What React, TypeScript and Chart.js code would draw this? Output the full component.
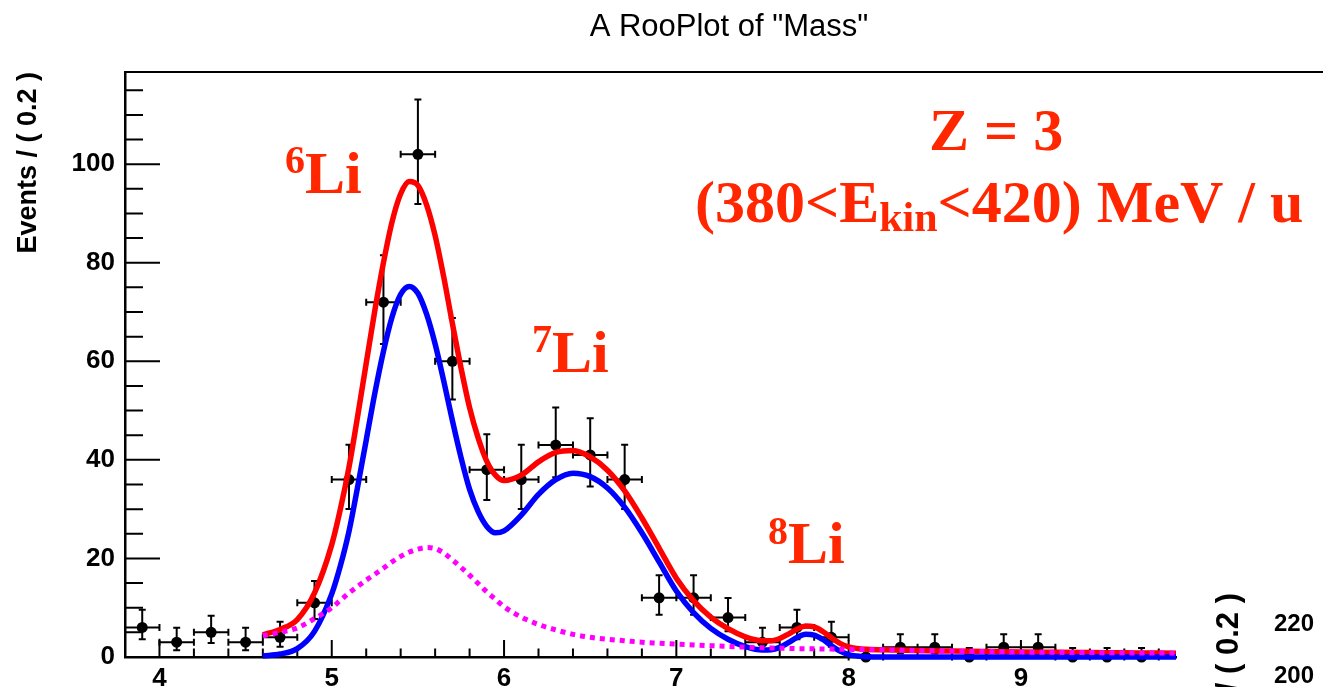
import { useEffect, useRef } from "react";
import { Chart, registerables } from "chart.js";

Chart.register(...registerables);

// ---- data (RooFit mass fit, Z = 3) ----
const binCenters = [3.9, 4.1, 4.3, 4.5, 4.7, 4.9, 5.1, 5.3, 5.5, 5.7, 5.9, 6.1, 6.3, 6.5, 6.7, 6.9, 7.1, 7.3, 7.5, 7.7, 7.9, 8.1, 8.3, 8.5, 8.7, 8.9, 9.1, 9.3, 9.5, 9.7];
const counts = [6, 3, 5, 3, 4, 11, 36, 72, 102, 60, 38, 36, 43, 41, 36, 12, 12, 8, 3, 6, 4, 0, 2, 2, 0, 2, 2, 0, 0, 0];
const errLow = [2.38, 1.63, 2.16, 1.63, 1.91, 3.27, 5.97, 8.47, 10.08, 7.73, 6.14, 5.97, 6.53, 6.38, 5.97, 3.42, 3.42, 2.77, 1.63, 2.38, 1.91, 0, 1.29, 1.29, 0, 1.29, 1.29, 0, 0, 0];
const errHigh = [3.58, 2.92, 3.38, 2.92, 3.16, 4.43, 7.06, 9.53, 11.12, 8.8, 7.22, 7.06, 7.61, 7.46, 7.06, 4.58, 4.58, 3.95, 2.92, 3.58, 3.16, 1.84, 2.64, 2.64, 1.84, 2.64, 2.64, 1.84, 1.84, 1.84];
const binHalfWidth = 0.1;

const curveX = [4.6, 4.7, 4.8, 4.9, 5.0, 5.05, 5.1, 5.15, 5.2, 5.25, 5.3, 5.35, 5.4, 5.45, 5.5, 5.55, 5.6, 5.65, 5.7, 5.75, 5.8, 5.85, 5.9, 5.95, 6.0, 6.1, 6.2, 6.3, 6.4, 6.5, 6.6, 6.7, 6.8, 6.9, 7.0, 7.1, 7.2, 7.3, 7.4, 7.5, 7.55, 7.6, 7.65, 7.7, 7.75, 7.8, 7.85, 7.9, 7.95, 8.0, 8.05, 8.1, 8.2, 8.4, 8.6, 8.8, 9.0, 9.2, 9.4, 9.6, 9.8, 9.9];
const totalFit = [4.5, 5.6, 7.6, 13.0, 22.8, 30.0, 38.5, 48.8, 59.6, 70.3, 80.0, 88.3, 94.0, 96.5, 95.7, 91.8, 85.5, 77.1, 67.7, 58.7, 50.6, 44.4, 39.7, 36.9, 35.8, 36.9, 39.6, 41.5, 41.9, 40.6, 37.9, 33.7, 28.2, 22.1, 16.0, 11.45, 8.1, 5.75, 4.1, 3.3, 3.3, 3.75, 4.65, 5.65, 6.28, 6.1, 5.17, 3.9, 2.77, 2.05, 1.72, 1.55, 1.45, 1.3, 1.2, 1.1, 1.0, 0.95, 0.9, 0.85, 0.8, 0.78];
const signalFit = [0.2, 0.6, 1.7, 5.2, 12.8, 18.5, 25.5, 34.5, 44.0, 53.5, 62.0, 69.0, 73.6, 75.2, 73.8, 69.6, 63.5, 56.0, 48.0, 40.5, 34.0, 29.5, 26.5, 25.2, 25.6, 28.8, 33.0, 36.0, 37.3, 36.6, 34.3, 30.4, 25.2, 19.3, 13.4, 9.0, 5.8, 3.6, 2.1, 1.4, 1.45, 1.95, 2.9, 3.95, 4.6, 4.45, 3.55, 2.3, 1.2, 0.5, 0.2, 0.05, 0, 0, 0, 0, 0, 0, 0, 0, 0, 0];
const backgroundFit = [4.3, 5.0, 5.9, 7.8, 10.0, 11.5, 13.0, 14.3, 15.6, 16.8, 18.0, 19.3, 20.4, 21.3, 21.9, 22.2, 22.0, 21.1, 19.7, 18.2, 16.6, 14.9, 13.2, 11.7, 10.2, 8.1, 6.6, 5.5, 4.6, 4.0, 3.6, 3.3, 3.0, 2.8, 2.6, 2.45, 2.3, 2.15, 2.0, 1.9, 1.85, 1.8, 1.75, 1.7, 1.68, 1.65, 1.62, 1.6, 1.57, 1.55, 1.52, 1.5, 1.45, 1.3, 1.2, 1.1, 1.0, 0.95, 0.9, 0.85, 0.8, 0.78];

// ---- axes / ticks ----
const xMin = 3.8;
const xMax = 9.9;
const yMin = 0;
const yMax = 118.7;
const xMajorTicks = [4, 5, 6, 7, 8, 9];
const xMinorTicks = [4.2, 4.4, 4.6, 4.8, 5.2, 5.4, 5.6, 5.8, 6.2, 6.4, 6.6, 6.8, 7.2, 7.4, 7.6, 7.8, 8.2, 8.4, 8.6, 8.8, 9.2, 9.4, 9.6, 9.8];
const yMajorTicks = [0, 20, 40, 60, 80, 100];
const yMinorTicks = [5, 10, 15, 25, 30, 35, 45, 50, 55, 65, 70, 75, 85, 90, 95, 105, 110, 115];

const titleText = 'A RooPlot of "Mass"';
const yTitleText = "Events / ( 0.2 )";
const neighbourTickLabels = ["220", "200"];

const SANS = '"Liberation Sans", Arial, Helvetica, sans-serif';
const SERIF = '"Liberation Serif", "Times New Roman", serif';
const ANNOT = "#ff2600";

type Run = { text: string; size: number; dy: number };

function drawRuns(ctx: CanvasRenderingContext2D, runs: Run[], x: number, y: number) {
  let cx = x;
  for (const r of runs) {
    ctx.font = `bold ${r.size}px ${SERIF}`;
    ctx.fillText(r.text, cx, y + r.dy);
    cx += ctx.measureText(r.text).width;
  }
}

const rootPlugin = {
  id: "rootStyle",
  beforeDatasetsDraw(chart: any) {
    const { ctx, chartArea: a, scales } = chart;
    const x = scales.x;
    const y = scales.y;
    ctx.save();
    ctx.strokeStyle = "#000";
    ctx.lineWidth = 2;
    ctx.lineCap = "butt";
    ctx.beginPath();
    for (const v of xMajorTicks) {
      const px = x.getPixelForValue(v);
      ctx.moveTo(px, a.bottom);
      ctx.lineTo(px, a.bottom - 17);
    }
    for (const v of xMinorTicks) {
      const px = x.getPixelForValue(v);
      ctx.moveTo(px, a.bottom);
      ctx.lineTo(px, a.bottom - 8.5);
    }
    for (const v of yMajorTicks) {
      const py = y.getPixelForValue(v);
      ctx.moveTo(a.left, py);
      ctx.lineTo(a.left + 35, py);
    }
    for (const v of yMinorTicks) {
      const py = y.getPixelForValue(v);
      ctx.moveTo(a.left, py);
      ctx.lineTo(a.left + 18, py);
    }
    ctx.stroke();

    // error bars
    const cap = 3.5;
    ctx.beginPath();
    for (let i = 0; i < binCenters.length; i++) {
      const px = x.getPixelForValue(binCenters[i]);
      const py = y.getPixelForValue(counts[i]);
      const pHi = y.getPixelForValue(counts[i] + errHigh[i]);
      const pLo = y.getPixelForValue(counts[i] - errLow[i]);
      const pL = x.getPixelForValue(binCenters[i] - binHalfWidth);
      const pR = x.getPixelForValue(binCenters[i] + binHalfWidth);
      ctx.moveTo(px, pLo);
      ctx.lineTo(px, pHi);
      ctx.moveTo(px - cap, pHi);
      ctx.lineTo(px + cap, pHi);
      if (errLow[i] > 0) {
        ctx.moveTo(px - cap, pLo);
        ctx.lineTo(px + cap, pLo);
      }
      ctx.moveTo(pL, py);
      ctx.lineTo(pR, py);
      ctx.moveTo(pL, py - cap);
      ctx.lineTo(pL, py + cap);
      ctx.moveTo(pR, py - cap);
      ctx.lineTo(pR, py + cap);
    }
    ctx.stroke();
    ctx.restore();
  },
  afterDraw(chart: any) {
    const { ctx, chartArea: a, width } = chart;
    ctx.save();
    // top frame line
    ctx.strokeStyle = "#000";
    ctx.lineWidth = 2;
    ctx.beginPath();
    ctx.moveTo(a.left, a.top);
    ctx.lineTo(width, a.top);
    ctx.stroke();

    // title
    ctx.fillStyle = "#000";
    ctx.font = `31px ${SANS}`;
    ctx.textAlign = "center";
    ctx.textBaseline = "alphabetic";
    ctx.fillText(titleText, 729, 36);

    // neighbouring plot remnants (cut off at the right edge)
    ctx.font = `bold 24px ${SANS}`;
    ctx.textAlign = "right";
    ctx.textBaseline = "middle";
    ctx.fillText(neighbourTickLabels[0], 1314, 624);
    ctx.fillText(neighbourTickLabels[1], 1314, 676);
    ctx.save();
    ctx.translate(1229, 593);
    ctx.rotate(-Math.PI / 2);
    ctx.font = `bold 31px ${SANS}`;
    ctx.textAlign = "right";
    ctx.textBaseline = "middle";
    ctx.fillText(yTitleText, 0, 0);
    ctx.restore();

    // annotations
    ctx.fillStyle = ANNOT;
    ctx.textAlign = "left";
    ctx.textBaseline = "alphabetic";
    drawRuns(ctx, [{ text: "Z = 3", size: 60, dy: 0 }], 929, 150);
    drawRuns(
      ctx,
      [
        { text: "(380<E", size: 60, dy: 0 },
        { text: "kin", size: 42, dy: 9 },
        { text: "<420) MeV / u", size: 60, dy: 0 },
      ],
      695,
      222
    );
    drawRuns(ctx, [{ text: "6", size: 40, dy: -20 }, { text: "Li", size: 60, dy: 0 }], 285, 193);
    drawRuns(ctx, [{ text: "7", size: 40, dy: -20 }, { text: "Li", size: 60, dy: 0 }], 532, 372);
    drawRuns(ctx, [{ text: "8", size: 40, dy: -19 }, { text: "Li", size: 60, dy: 0 }], 768, 563);
    ctx.restore();
  },
};

export default function App() {
  const ref = useRef<HTMLCanvasElement | null>(null);
  useEffect(() => {
    const canvas = ref.current;
    if (!canvas) return;
    const tickFont = { family: SANS, weight: "bold" as const, size: 26 };
    const chart = new Chart(canvas, {
      type: "line",
      data: {
        datasets: [
          {
            label: "data",
            data: binCenters.map((v, i) => ({ x: v, y: counts[i] })),
            showLine: false,
            pointRadius: 5.5,
            pointHoverRadius: 5.5,
            pointBackgroundColor: "#000",
            pointBorderColor: "#000",
            pointBorderWidth: 0,
            order: 3,
            clip: false as any,
          },
          {
            label: "total",
            data: curveX.map((v, i) => ({ x: v, y: totalFit[i] })),
            borderColor: "#ff0000",
            borderWidth: 5.5,
            pointRadius: 0,
            cubicInterpolationMode: "monotone",
            fill: false,
            order: 2,
            clip: false as any,
          },
          {
            label: "signal",
            data: curveX.map((v, i) => ({ x: v, y: signalFit[i] })),
            borderColor: "#0000ff",
            borderWidth: 5.5,
            pointRadius: 0,
            cubicInterpolationMode: "monotone",
            fill: false,
            order: 1,
            clip: false as any,
          },
          {
            label: "background",
            data: curveX.map((v, i) => ({ x: v, y: backgroundFit[i] })),
            borderColor: "#ff00ff",
            borderWidth: 5,
            borderDash: [5, 5],
            pointRadius: 0,
            cubicInterpolationMode: "monotone",
            fill: false,
            order: 0,
            clip: false as any,
          },
        ],
      },
      options: {
        responsive: false,
        animation: false,
        events: [],
        layout: { autoPadding: false, padding: { left: 0, top: 72, right: 147, bottom: 0 } },
        plugins: { legend: { display: false }, tooltip: { enabled: false }, title: { display: false } },
        scales: {
          x: {
            type: "linear",
            min: xMin,
            max: xMax,
            afterBuildTicks: (s: any) => {
              s.ticks = xMajorTicks.map((v) => ({ value: v }));
            },
            afterFit: (s: any) => {
              s.height = 30;
            },
            grid: { display: false, drawTicks: false },
            border: { display: true, color: "#000", width: 2.5 },
            ticks: {
              font: tickFont,
              color: "#000",
              padding: 6,
              autoSkip: false,
              maxRotation: 0,
              callback: (v: any) => String(v),
            },
          },
          y: {
            type: "linear",
            min: yMin,
            max: yMax,
            afterBuildTicks: (s: any) => {
              s.ticks = yMajorTicks.map((v) => ({ value: v }));
            },
            afterFit: (s: any) => {
              s.width = 125;
            },
            grid: { display: false, drawTicks: false },
            border: { display: true, color: "#000", width: 2.5 },
            title: {
              display: true,
              text: yTitleText,
              align: "end",
              color: "#000",
              font: { family: SANS, weight: "bold" as const, size: 27 },
              padding: { top: 12, bottom: 0 },
            },
            ticks: {
              font: tickFont,
              color: "#000",
              padding: 10,
              autoSkip: false,
              callback: (v: any) => String(v),
            },
          },
        },
      },
      plugins: [rootPlugin],
    } as any);
    return () => chart.destroy();
  }, []);
  return (
    <div style={{ position: "fixed", left: 0, top: 0, width: 1323, height: 687, background: "#fff" }}>
      <canvas ref={ref} width={1323} height={687} style={{ display: "block", width: 1323, height: 687 }} />
    </div>
  );
}
